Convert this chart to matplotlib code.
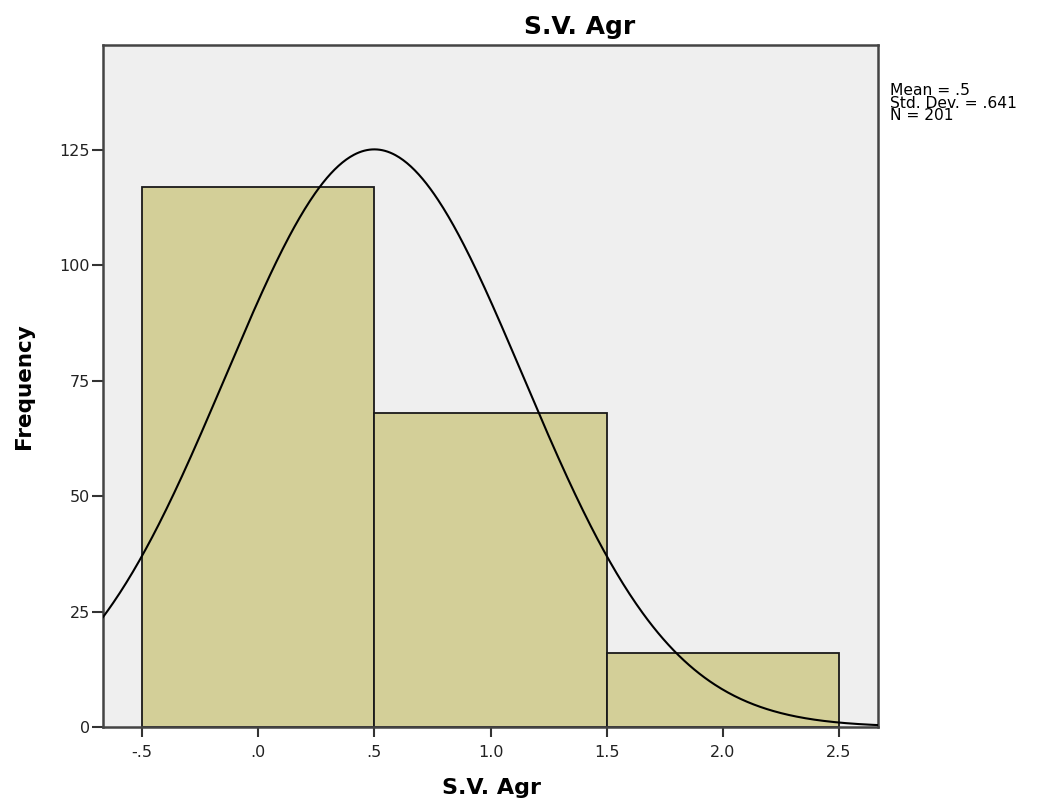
import numpy as np
import matplotlib
matplotlib.use("Agg")
import matplotlib.pyplot as plt

# Histogram of S.V. Agr with a fitted normal curve
bin_edges = [-0.5, 0.5, 1.5, 2.5]
frequencies = [117, 68, 16]
mean_val = 0.5
std_val = 0.641
n_total = 201
x_ticks = [-0.5, 0.0, 0.5, 1.0, 1.5, 2.0, 2.5]
x_tick_labels = ["-.5", ".0", ".5", "1.0", "1.5", "2.0", "2.5"]
y_ticks = [0, 25, 50, 75, 100, 125]

plt.rcParams['font.family'] = ['DejaVu Sans']

fig = plt.figure(figsize=(10.38, 8.01), dpi=100)
ax = fig.add_axes([0.0992, 0.0924, 0.7467, 0.8514])
ax.set_facecolor('#EFEFEF')

x_lo, x_hi = -0.668, 2.668
ax.set_xlim(x_lo, x_hi)
ax.set_ylim(0, 147.7)

widths = np.diff(bin_edges)
ax.bar(bin_edges[:-1], frequencies, width=widths, align='edge',
       color='#D3CF98', edgecolor='#1a1a1a', linewidth=1.3, zorder=2)

# Normal curve scaled to counts
bw = widths[0]
xs = np.linspace(x_lo, x_hi, 600)
ys = n_total * bw / (std_val * np.sqrt(2 * np.pi)) * np.exp(-0.5 * ((xs - mean_val) / std_val) ** 2)
ax.plot(xs, ys, color='black', linewidth=1.5, zorder=3)

ax.set_xticks(x_ticks)
ax.set_xticklabels(x_tick_labels)
ax.set_yticks(y_ticks)
ax.tick_params(axis='both', direction='out', width=1.5, color='#333333',
               labelsize=11.5, labelcolor='#222222')
ax.tick_params(axis='x', length=7.5, pad=5.5)
ax.tick_params(axis='y', length=8, pad=1.5)

for side in ['left', 'bottom', 'right', 'top']:
    ax.spines[side].set_color('#444444')
    ax.spines[side].set_linewidth(1.8)

fig.text(491 / 1038, 1 - 788 / 801, 'S.V. Agr', ha='center', va='center',
         fontsize=16, fontweight='bold')
fig.text(24 / 1038, 1 - 386 / 801, 'Frequency', ha='center', va='center',
         rotation=90, fontsize=15.5, fontweight='bold')

fig.text(580 / 1038, 1 - 27 / 801, 'S.V. Agr', ha='center', va='center',
         fontsize=18, fontweight='bold')

fig.text(890 / 1038, 1 - 83 / 801,
         'Mean = .5\nStd. Dev. = .641\nN = ' + str(n_total),
         ha='left', va='top', fontsize=11.2, linespacing=0.8)

fig.savefig('out.png', dpi=100, facecolor='white')
